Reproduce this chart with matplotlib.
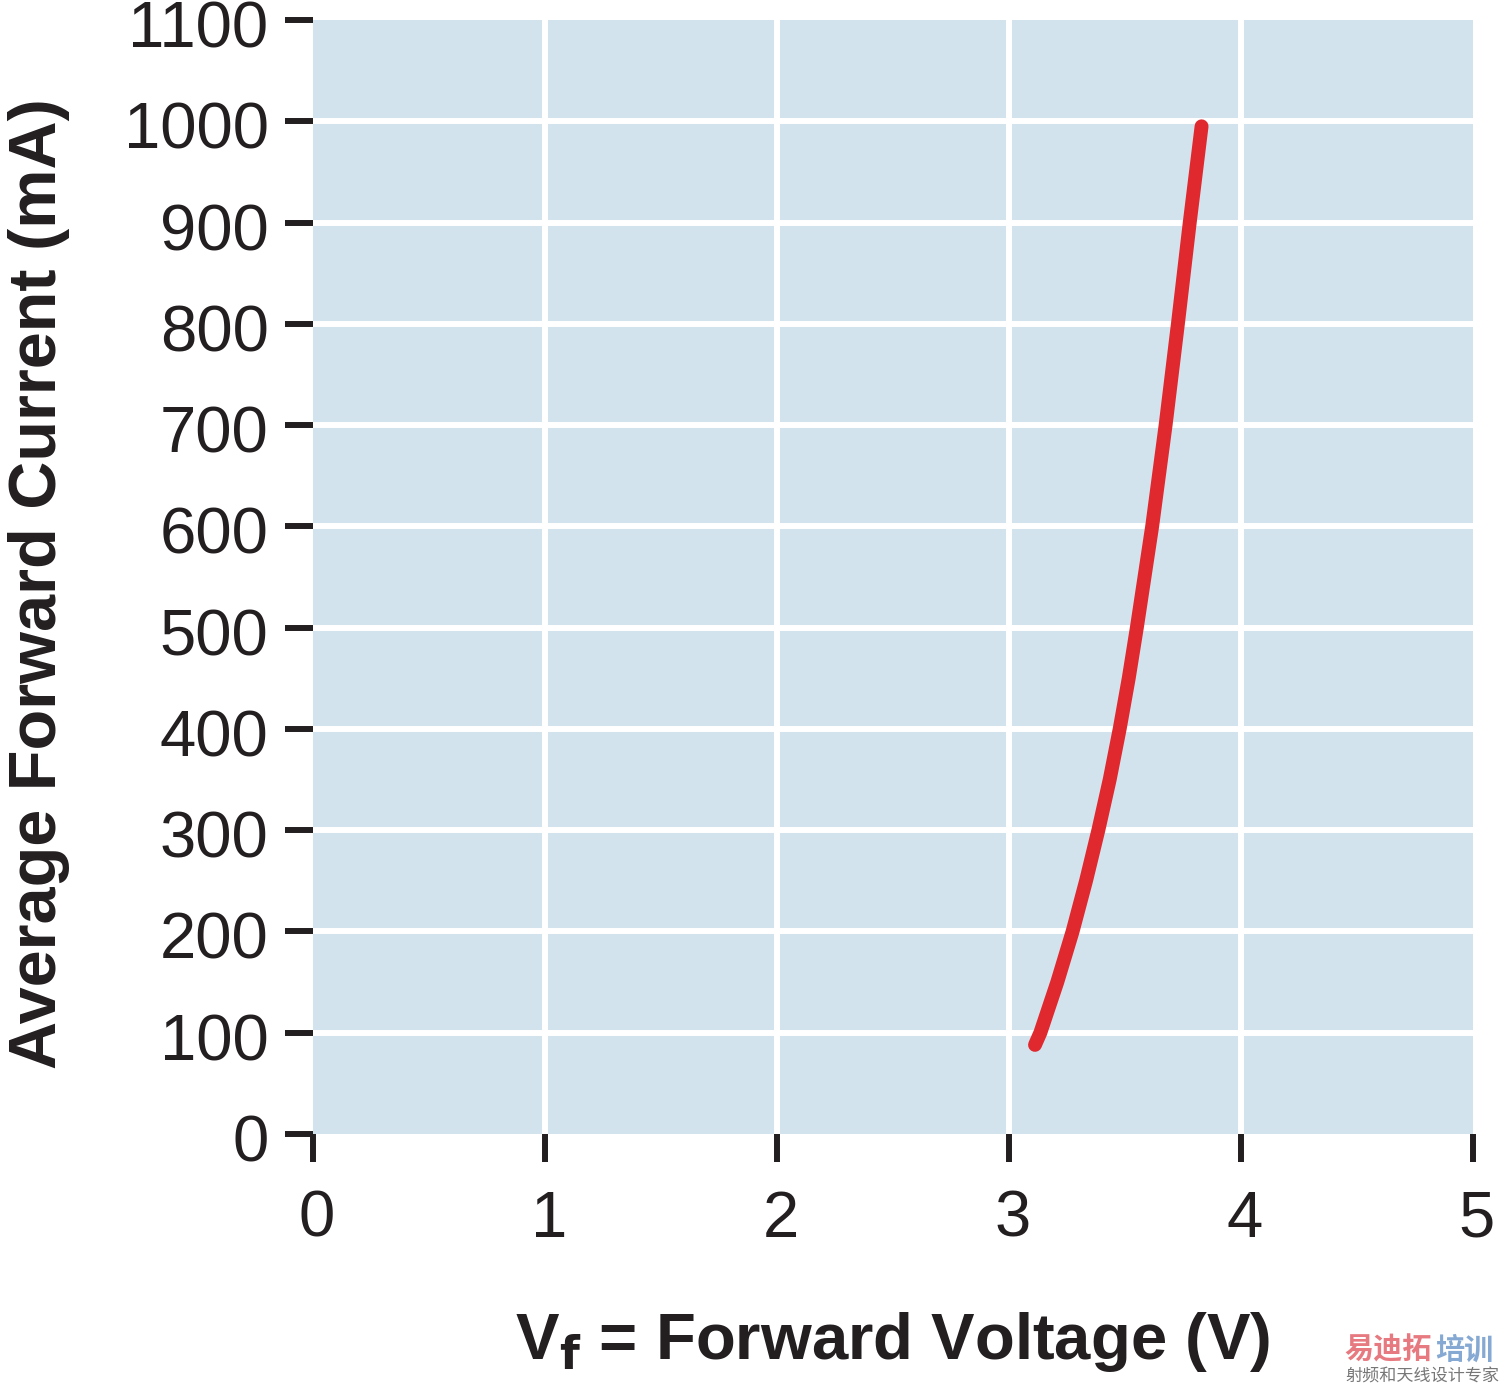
import matplotlib
matplotlib.use("Agg")
from matplotlib import pyplot as plt
from matplotlib.transforms import ScaledTranslation

# forward voltage (V) vs average forward current (mA)
volts = [3.112, 3.135, 3.208, 3.274, 3.332, 3.385, 3.434, 3.477, 3.516, 3.551,
         3.617, 3.675, 3.728, 3.779, 3.830]
current = [88, 100, 150, 200, 250, 300, 350, 400, 450, 500,
           600, 700, 800, 900, 995]

x_ticks = [0, 1, 2, 3, 4, 5]
y_ticks = [0, 100, 200, 300, 400, 500, 600, 700, 800, 900, 1000, 1100]

ink = '#231f20'

plt.rcParams['font.family'] = ['Liberation Sans', 'DejaVu Sans']

fig = plt.figure(figsize=(15, 13.86), dpi=100)
ax = fig.add_axes([0.2087, 0.1818, 0.7733, 0.8038])
ax.set_facecolor('#d3e3ed')

# white grid, only the inner lines (the edges have none)
for xv in x_ticks[1:-1]:
    ax.axvline(xv, color='white', lw=4.3, zorder=1)
for yv in y_ticks[1:-1]:
    ax.axhline(yv, color='white', lw=4.3, zorder=1)

ax.plot(volts, current, color='#e0282f', lw=10, solid_capstyle='round',
        solid_joinstyle='round', zorder=3)

ax.set_xlim(0, 5)
ax.set_ylim(0, 1100)
ax.set_xticks(x_ticks)
ax.set_yticks(y_ticks)

for s in ax.spines.values():
    s.set_visible(False)

ax.tick_params(axis='both', direction='out', length=20, width=4.3, color=ink,
               labelsize=47, labelcolor=ink)
ax.tick_params(axis='y', pad=12)
ax.tick_params(axis='x', pad=20)

# nudge labels the way the original sits
for lab in ax.get_yticklabels():
    lab.set_transform(lab.get_transform() + ScaledTranslation(0, -0.04, fig.dpi_scale_trans))
for lab in ax.get_xticklabels():
    lab.set_transform(lab.get_transform() + ScaledTranslation(0.04, 0, fig.dpi_scale_trans))

fig.text(0.026, 0.579, 'Average Forward Current (mA)', rotation=90, fontsize=48,
         fontweight='bold', color=ink, ha='center', va='center')
fig.text(0.595, 0.032, r'V$_\mathbf{f}$ = Forward Voltage (V)', fontsize=47,
         fontweight='bold', color=ink, ha='center', va='center')

# watermark
fig.text(0.896, 0.026, '易迪拓', fontsize=21, color='#e77a80', fontweight='bold',
         family=['Noto Sans CJK SC', 'DejaVu Sans'], ha='left', va='center')
fig.text(0.957, 0.026, '培训', fontsize=21, color='#86a9d3', fontweight='bold',
         family=['Noto Sans CJK SC', 'DejaVu Sans'], ha='left', va='center')
fig.text(0.897, 0.007, '射频和天线设计专家', fontsize=12.3, color='#777777',
         family=['Noto Sans CJK SC', 'DejaVu Sans'], ha='left', va='center')

fig.savefig('out.png', dpi=100)
